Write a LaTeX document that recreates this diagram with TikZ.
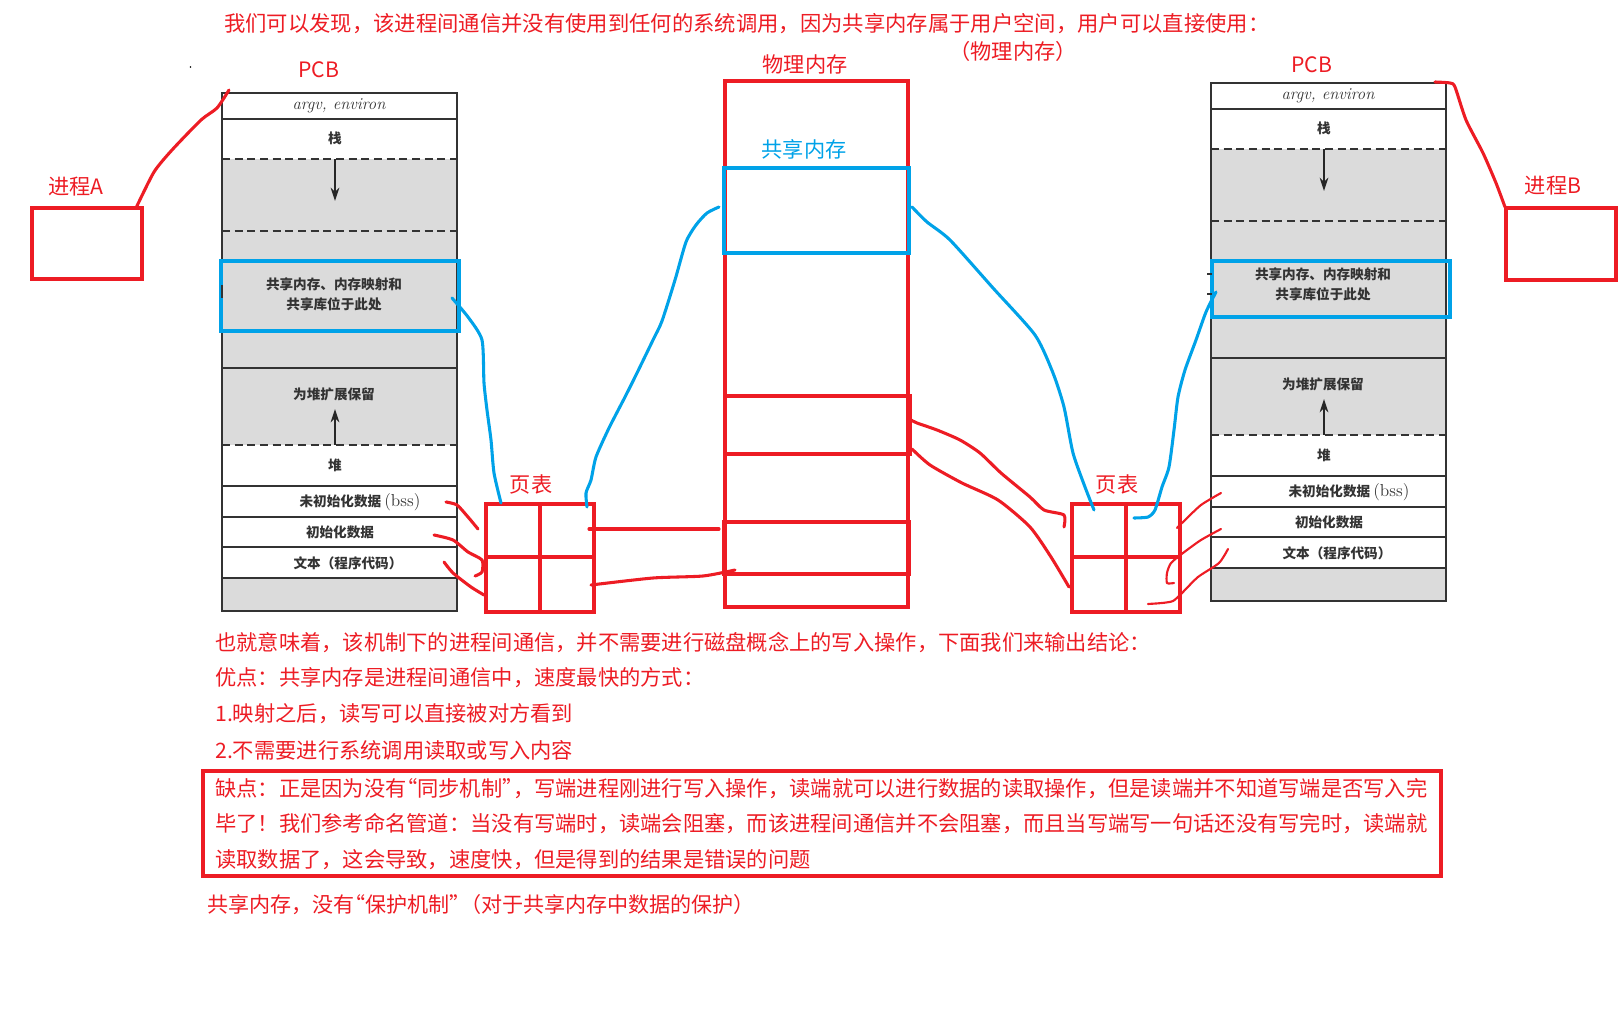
\documentclass[tikz,border=0pt]{standalone}
\usepackage{fontspec}
\usepackage{tikz}
\usetikzlibrary{arrows.meta}
\newfontfamily\cjk{Noto Sans CJK SC}
\newcommand{\openq}{\kern-.5em“}
\newcommand{\closeq}{”\kern-.5em}
\newcommand{\cmm}{^^^^ff0c}
\newcommand{\cln}{^^^^ff1a}
\newcommand{\bng}{^^^^ff01}
\newcommand{\lpr}{^^^^ff08}
\newcommand{\rpr}{^^^^ff09}
\definecolor{markred}{HTML}{ED1C24}
\definecolor{markblue}{HTML}{00A2E8}
\definecolor{pagegray}{HTML}{DBDBDB}
\definecolor{pageink}{HTML}{333333}
\tikzset{
  pxbox/.style 2 args={minimum width=#1*0.75pt, minimum height=#2*0.75pt, inner sep=0pt, outer sep=0pt, anchor=north west},
  redbox/.style={draw=markred, line width=2.3pt},
  bluebox/.style={draw=markblue, line width=2.3pt},
  redpen/.style={draw=markred, line width=2.3pt, line cap=round, line join=round},
  thinpen/.style={draw=markred, line width=1.6pt, line cap=round, line join=round},
  bluepen/.style={draw=markblue, line width=2.3pt, line cap=round, line join=round},
  redtext/.style={text=markred, font=\cjk\fontsize{15.9pt}{18pt}\selectfont, inner sep=0pt},
  bluetext/.style={text=markblue, font=\cjk\fontsize{15.9pt}{18pt}\selectfont, inner sep=0pt},
  bodytext/.style={text=markred, font=\cjk\fontsize{15.95pt}{18pt}\selectfont, inner sep=0pt, anchor=west},
  pagetext/.style={text=pageink, font=\cjk\bfseries\fontsize{10.2pt}{12pt}\selectfont, inner sep=0pt},
  pageline/.style={draw=pageink, line width=1pt},
  pagedash/.style={draw=pageink, line width=1pt, dash pattern=on 6pt off 3.5pt},
  pagearrow/.style={draw=black!85, line width=1.1pt, -{Stealth[length=10pt,width=6.5pt]}}
}
\begin{document}
\begin{tikzpicture}[x=0.75pt,y=-0.75pt]
    \useasboundingbox (0,0) rectangle (1622,1009);

    % 进程 A 的地址空间
    \begin{scope}
        \fill[pagegray] (222,159) rectangle (457,445);
        \fill[pagegray] (222,578) rectangle (457,611);
        \draw[pageline] (222,93) rectangle (457,611);
        \draw[pageline] (222,119) -- (457,119);
        \draw[pagedash] (222,159) -- (457,159);
        \draw[pagedash] (222,231) -- (457,231);
        \draw[pageline] (222,368) -- (457,368);
        \draw[pagedash] (222,445) -- (457,445);
        \draw[pageline] (222,486) -- (457,486);
        \draw[pageline] (222,517) -- (457,517);
        \draw[pageline] (222,547) -- (457,547);
        \draw[pageline] (222,578) -- (457,578);
        \coordinate (stacktopA) at (335,159);
        \coordinate (stacktipA) at (335,201);
        \coordinate (heaptopA) at (335,445);
        \coordinate (heaptipA) at (335,409);
        \draw[pagearrow] (stacktopA) -- (stacktipA);
        \draw[pagearrow] (heaptopA) -- (heaptipA);
        \node[text=pageink, font=\itshape\fontsize{12.5pt}{13pt}\selectfont, inner sep=0pt] (argvA) at (339,106) {argv, environ};
        \node[pagetext] (stackA) at (335,138) {栈};
        \node[pagetext] (mapAa) at (334,284) {共享内存、内存映射和};
        \node[pagetext] (mapAb) at (334,304) {共享库位于此处};
        \node[pagetext] (reserveA) at (334,394) {为堆扩展保留};
        \node[pagetext] (heapA) at (335,465) {堆};
        \node[pagetext] (bssA) at (360,502) {未初始化数据 {\normalfont\rmfamily\fontsize{13pt}{13pt}\selectfont (bss)}};
        \node[pagetext] (dataA) at (340,532) {初始化数据};
        \node[pagetext] (textA) at (348,563) {文本\lpr 程序代码\rpr};
    \end{scope}

    % 进程 B 的地址空间
    \begin{scope}[shift={(989,-10)}]
        \fill[pagegray] (222,159) rectangle (457,445);
        \fill[pagegray] (222,578) rectangle (457,611);
        \draw[pageline] (222,93) rectangle (457,611);
        \draw[pageline] (222,119) -- (457,119);
        \draw[pagedash] (222,159) -- (457,159);
        \draw[pagedash] (222,231) -- (457,231);
        \draw[pageline] (222,368) -- (457,368);
        \draw[pagedash] (222,445) -- (457,445);
        \draw[pageline] (222,486) -- (457,486);
        \draw[pageline] (222,517) -- (457,517);
        \draw[pageline] (222,547) -- (457,547);
        \draw[pageline] (222,578) -- (457,578);
        \coordinate (stacktopB) at (335,159);
        \coordinate (stacktipB) at (335,201);
        \coordinate (heaptopB) at (335,445);
        \coordinate (heaptipB) at (335,409);
        \draw[pagearrow] (stacktopB) -- (stacktipB);
        \draw[pagearrow] (heaptopB) -- (heaptipB);
        \node[text=pageink, font=\itshape\fontsize{12.5pt}{13pt}\selectfont, inner sep=0pt] (argvB) at (339,106) {argv, environ};
        \node[pagetext] (stackB) at (335,138) {栈};
        \node[pagetext] (mapBa) at (334,284) {共享内存、内存映射和};
        \node[pagetext] (mapBb) at (334,304) {共享库位于此处};
        \node[pagetext] (reserveB) at (334,394) {为堆扩展保留};
        \node[pagetext] (heapB) at (335,465) {堆};
        \node[pagetext] (bssB) at (360,502) {未初始化数据 {\normalfont\rmfamily\fontsize{13pt}{13pt}\selectfont (bss)}};
        \node[pagetext] (dataB) at (340,532) {初始化数据};
        \node[pagetext] (textB) at (348,563) {文本\lpr 程序代码\rpr};
    \end{scope}

    % 方框
    \node[pxbox={110}{71}, redbox] (procA) at (32,208) {};
    \node[pxbox={110}{72}, redbox] (procB) at (1506,208) {};
    \node[pxbox={183}{526}, redbox] (physmem) at (725,81) {};
    \node[pxbox={185}{58}, redbox] (codeseg) at (725,396) {};
    \node[pxbox={185}{52}, redbox] (dataseg) at (724,522) {};
    \node[pxbox={185}{85}, bluebox] (shm) at (724,168) {};
    \node[pxbox={238}{70}, bluebox] (mapboxA) at (221,261) {};
    \node[pxbox={238}{56}, bluebox] (mapboxB) at (1212,261) {};
    \draw[pageink, line width=1.8pt] (222,285) -- (222,298);
    \draw[pageink, line width=1.8pt] (1446,282) -- (1446,298);
    \draw[pageline] (1207,274) -- (1212,274);
    \draw[pageline] (1207,294) -- (1212,294);

    % 页表
    \node[pxbox={108}{108}, redbox] (ptableA) at (486,504) {};
    \node[pxbox={108}{108}, redbox] (ptableB) at (1072,504) {};
    \draw[redbox] (ptableA.north) -- (ptableA.south);
    \draw[redbox] (ptableA.west |- 0,557) -- (ptableA.east |- 0,557);
    \draw[redbox] (ptableB.north) -- (ptableB.south);
    \draw[redbox] (ptableB.west |- 0,557) -- (ptableB.east |- 0,557);
    \draw[redbox, line width=3.6pt] (ptableA.north east) -- (ptableA.south east) -- (ptableA.south west);
    \draw[redbox, line width=3.6pt] (ptableB.north east) -- (ptableB.south east) -- (ptableB.south west);

    % 标签
    \node[redtext] (pcbA) at (319,70) {PCB};
    \node[redtext] (pcbB) at (1312,65) {PCB};
    \node[redtext] (nameA) at (76,187) {进程A};
    \node[redtext] (nameB) at (1553,186) {进程B};
    \node[redtext] (physlabel) at (805,64) {物理内存};
    \node[bluetext] (shmlabel) at (804,149) {共享内存};
    \node[redtext] (pttitleA) at (531,484) {页表};
    \node[redtext] (pttitleB) at (1117,484) {页表};
    \fill (190.5,67) circle (0.7pt);

    % 文字
    \node[bodytext, font=\cjk\fontsize{16pt}{18pt}\selectfont] (noteTop) at (224,24) {我们可以发现\cmm 该进程间通信并没有使用到任何的系统调用\cmm 因为共享内存属于用户空间\cmm 用户可以直接使用\cln};
    \node[redtext] (notePhys) at (1013,51) {\lpr 物理内存\rpr};
    \node[bodytext] (noteMean) at (215,643) {也就意味着\cmm 该机制下的进程间通信\cmm 并不需要进行磁盘概念上的写入操作\cmm 下面我们来输出结论\cln};
    \node[bodytext] (noteGood) at (215,678) {优点\cln 共享内存是进程间通信中\cmm 速度最快的方式\cln};
    \node[bodytext] (noteOne) at (215,714) {1.映射之后\cmm 读写可以直接被对方看到};
    \node[bodytext] (noteTwo) at (215,750) {2.不需要进行系统调用读取或写入内容};
    \node[pxbox={1238}{105}, redbox] (badbox) at (203,771) {};
    \node[bodytext] (noteBadA) at (215,789) {缺点\cln 正是因为没有\openq 同步机制\closeq\cmm 写端进程刚进行写入操作\cmm 读端就可以进行数据的读取操作\cmm 但是读端并不知道写端是否写入完};
    \node[bodytext] (noteBadB) at (215,824) {毕了\bng 我们参考命名管道\cln 当没有写端时\cmm 读端会阻塞\cmm 而该进程间通信并不会阻塞\cmm 而且当写端写一句话还没有写完时\cmm 读端就};
    \node[bodytext] (noteBadC) at (215,860) {读取数据了\cmm 这会导致\cmm 速度快\cmm 但是得到的结果是错误的问题};
    \node[bodytext, font=\cjk\fontsize{15.8pt}{18pt}\selectfont] (noteLast) at (207,905) {共享内存\cmm 没有\openq 保护机制\closeq\lpr 对于共享内存中数据的保护\rpr};

    % 线端的坐标
    \coordinate (nameAend) at (136,208);
    \coordinate (pcbAend) at (229,90);
    \coordinate (nameBend) at (1505,207);
    \coordinate (pcbBend) at (1435,82);
    \coordinate (mapAend) at (452,298);
    \coordinate (ptAleft) at (501,503);
    \coordinate (ptAright) at (587,507);
    \coordinate (shmleft) at (719,207);
    \coordinate (shmright) at (912,207);
    \coordinate (ptBleft) at (1094,510);
    \coordinate (ptBright) at (1134,518);
    \coordinate (mapBend) at (1216,292);

    % 手绘线
    \draw[redpen] plot[smooth,tension=0.4] coordinates {(nameAend) (154,172) (172,150) (201,120) (217,108) (pcbAend)};
    \draw[redpen] plot[smooth,tension=0.4] coordinates {(nameBend) (1496,183) (1483,153) (1466,120) (1455,87) (1450,83) (pcbBend)};
    \draw[bluepen] plot[smooth,tension=0.4] coordinates {(mapAend) (468,317) (482,340) (484,383) (487,410) (491,440) (494,473) (ptAleft)};
    \draw[bluepen] plot[smooth,tension=0.4] coordinates {(ptAright) (586,493) (591,480) (596,457) (609,428) (625,397) (637,373) (653,340) (662,321) (675,280) (686,242) (696,225) (707,213) (shmleft)};
    \draw[bluepen] plot[smooth,tension=0.4] coordinates {(shmright) (927,222) (950,240) (993,288) (1035,335) (1053,373) (1064,407) (1073,453) (1085,487) (ptBleft)};
    \draw[bluepen] plot[smooth,tension=0.4] coordinates {(mapBend) (1206,312) (1196,340) (1185,370) (1178,397) (1174,430) (1169,467) (1162,487) (1155,510) (1148,517) (ptBright)};

    % 段到页表的线
    \coordinate (bssAend) at (446,502);
    \coordinate (bssAtab) at (478,529);
    \coordinate (dataAend) at (434,535);
    \coordinate (dataAtab) at (475,576);
    \coordinate (textAend) at (444,562);
    \coordinate (textAtab) at (484,595);
    \draw[redpen] plot[smooth,tension=0.4] coordinates {(bssAend) (457,505) (468,517) (bssAtab)};
    \draw[redpen] plot[smooth,tension=0.4] coordinates {(dataAend) (453,540) (468,552) (482,560) (482,572) (dataAtab)};
    \draw[redpen] plot[smooth,tension=0.4] coordinates {(textAend) (453,573) (471,587) (textAtab)};
    \coordinate (ptAtop) at (589,529);
    \coordinate (ptAlow) at (591,585);
    \coordinate (memtop) at (719,529);
    \coordinate (memlow) at (735,570);
    \draw[redpen] (ptAtop) -- (memtop);
    \draw[redpen] plot[smooth,tension=0.4] coordinates {(ptAlow) (653,578) (703,576) (memlow)};
    \coordinate (segtop) at (911,420);
    \coordinate (segmid) at (912,449);
    \coordinate (ptBtop) at (1064,527);
    \coordinate (ptBlow) at (1069,587);
    \draw[redpen] plot[smooth,tension=0.4] coordinates {(segtop) (917,423) (937,430) (960,440) (980,453) (1001,473) (1030,497) (1044,510) (1064,515) (ptBtop)};
    \draw[redpen] plot[smooth,tension=0.4] coordinates {(segmid) (930,465) (962,483) (998,500) (1030,527) (1051,557) (ptBlow)};
    \coordinate (bssBend) at (1221,493);
    \coordinate (bssBtab) at (1177,528);
    \coordinate (dataBend) at (1221,529);
    \coordinate (dataBtab) at (1174,583);
    \coordinate (textBend) at (1228,549);
    \coordinate (textBtab) at (1148,604);
    \draw[thinpen] plot[smooth,tension=0.4] coordinates {(bssBend) (1201,505) (1183,522) (bssBtab)};
    \draw[thinpen] plot[smooth,tension=0.4] coordinates {(dataBend) (1201,540) (1183,553) (1171,563) (1167,573) (1167,583) (dataBtab)};
    \draw[thinpen] plot[smooth,tension=0.4] coordinates {(textBend) (1219,563) (1198,577) (1182,593) (1173,601) (1162,603) (textBtab)};
\end{tikzpicture}
\end{document}
